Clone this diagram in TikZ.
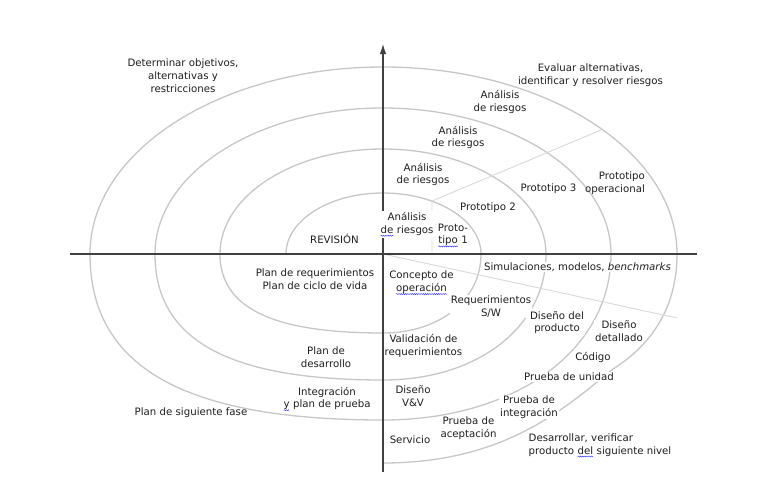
\documentclass[tikz,border=0pt]{standalone}
\usepackage{fontspec}
\setmainfont{DejaVu Sans}
\usetikzlibrary{arrows.meta,decorations.pathmorphing}
\newcommand\bwave[1]{\tikz[baseline=(wv.base)]{\node[inner sep=0pt,outer sep=0pt] (wv) {#1};
  \draw[blue!80!white,line width=0.45pt,decorate,decoration={snake,amplitude=0.55pt,segment length=2.2pt}]
  ([yshift=-2.4pt]wv.base west) -- ([yshift=-2.4pt]wv.base east);}}
\begin{document}
\begin{tikzpicture}[x=1pt,y=-1pt,
  lab/.style={font=\fontsize{10.2}{12.7}\selectfont, align=center, inner sep=1pt, text=black!88},
  wlab/.style={lab, fill=white},
  spiral/.style={draw=black!22, line width=1.3pt},
  ray/.style={draw=black!15, line width=0.9pt},
  axis/.style={draw=black!75, line width=1.1pt}]
\useasboundingbox (0,0) rectangle (771,482);
\fill[white] (0,0) rectangle (771,482);
% spiral
\draw[spiral] (286,254) .. controls (286,220.3) and (329.5,193) .. (383,193)
  .. controls (437.1,193) and (481,220.3) .. (481,254)
  .. controls (481,299.8) and (439.8,333) .. (383,333)
  .. controls (272.2,333) and (220,307.7) .. (220,254)
  .. controls (220,196) and (293,149) .. (383,149)
  .. controls (473,149) and (546,196) .. (546,254)
  .. controls (546,327.1) and (477.5,380) .. (383,380)
  .. controls (228,380) and (155,339.7) .. (155,254)
  .. controls (155,173.4) and (257.1,108) .. (383,108)
  .. controls (508.9,108) and (611,173.4) .. (611,254)
  .. controls (611,350.3) and (515.2,420) .. (383,420)
  .. controls (183.8,420) and (90,366.9) .. (90,254)
  .. controls (90,150.8) and (221.3,67) .. (383,67)
  .. controls (545.3,67) and (677,150.8) .. (677,254)
  .. controls (677,314) and (645,349) .. (613,369)
  .. controls (563,410) and (503,463) .. (383,463);
% rays
\coordinate (r1a) at (432,201);
\coordinate (r1b) at (601,130);
\coordinate (r1c) at (432,252);
\coordinate (O) at (383,254);
\coordinate (r2b) at (677,318);
\draw[ray] (r1c) -- (r1a) -- (r1b);
\draw[ray] (O) -- (r2b);
% axes
\coordinate (L) at (70,254);
\coordinate (R) at (697,254);
\coordinate (T) at (383,44);
\coordinate (B) at (383,472);
\draw[axis] (L) -- (R);
\draw[axis,-{Latex[length=10pt,width=6.5pt]}] (B) -- (T);
% labels
\node[lab] (n1) at (183,75.5) {Determinar objetivos,\\alternativas y\\restricciones};
\node[lab] (n2) at (590.5,75) {Evaluar alternativas,\\identificar y resolver riesgos};
\node[lab] (ar1) at (500,102) {Análisis\\de riesgos};
\node[lab] (ar2) at (458,137.5) {Análisis\\de riesgos};
\node[lab] (ar3) at (423,174.5) {Análisis\\de riesgos};
\node[wlab] (ar4) at (407,224.5) {Análisis\\\bwave{de} riesgos};
\node[lab] (rev) at (334.5,239) {REVISIÓN};
\node[lab] (p1) at (453,235.5) {Proto-\\\bwave{tipo} 1};
\node[lab] (p2) at (488,208) {Prototipo 2};
\node[lab] (p3) at (548.5,189) {Prototipo 3};
\node[lab,align=right] (po) at (615,183.5) {Prototipo\\operacional};
\node[wlab] (sim) at (577.5,267) {Simulaciones, modelos, \textit{benchmarks}};
\node[lab] (preq) at (315,279.5) {Plan de requerimientos\\Plan de ciclo de vida};
\node[lab] (conc) at (421.5,283) {Concepto de\\\bwave{operación}};
\node[wlab] (rsw) at (491,306.5) {Requerimientos\\S/W};
\node[wlab] (dp) at (557,322.5) {Diseño del\\producto};
\node[wlab] (dd) at (619,331) {Diseño\\detallado};
\node[wlab] (cod) at (593,357) {Código};
\node[wlab] (pu) at (569,377) {Prueba de unidad};
\node[wlab] (pi) at (529,407) {Prueba de\\integración};
\node[wlab] (pa) at (468.5,428) {Prueba de\\aceptación};
\node[wlab,align=left] (des) at (600,445.5) {Desarrollar, verificar\\producto \bwave{del} siguiente nivel};
\node[lab] (val) at (423.5,346) {Validación de\\requerimientos};
\node[lab] (pd) at (326,357.5) {Plan de\\desarrollo};
\node[lab] (int) at (327,399) {Integración\\\bwave{y} plan de prueba};
\node[lab] (dvv) at (413,396) {Diseño\\V\&V};
\node[lab] (serv) at (410,439.5) {Servicio};
\node[lab] (psf) at (191,413) {Plan de siguiente fase};
\end{tikzpicture}
\end{document}
